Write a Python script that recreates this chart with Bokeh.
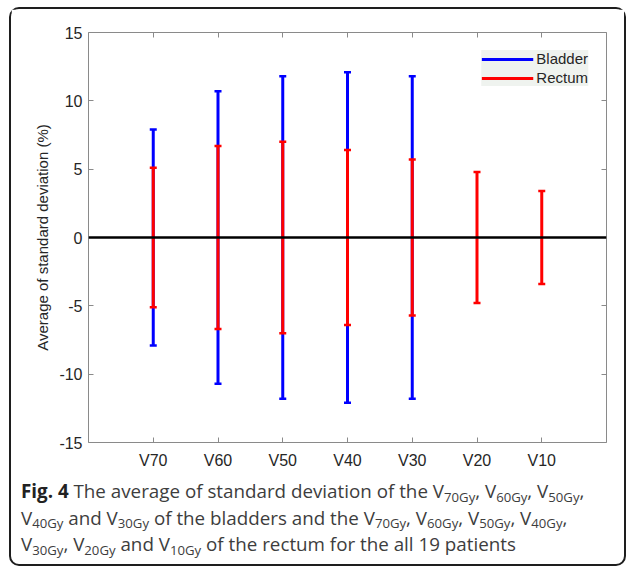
from bokeh.plotting import figure
from bokeh.models import (Range1d, FixedTicker, LinearAxis, Span, Legend, LegendItem,
                          Div, ColumnDataSource)
from bokeh.layouts import column
from bokeh.embed import file_html
from bokeh.resources import INLINE

# ---- data ----
categories = ["V70", "V60", "V50", "V40", "V30", "V20", "V10"]
bladder_cats = ["V70", "V60", "V50", "V40", "V30"]
bladder_sd = [7.9, 10.7, 11.8, 12.1, 11.8]
rectum_cats = ["V70", "V60", "V50", "V40", "V30", "V20", "V10"]
rectum_sd = [5.1, 6.7, 7.0, 6.4, 5.7, 4.8, 3.4]
y_ticks = [-15, -10, -5, 0, 5, 10, 15]
y_tick_labels = ["-15", "-10", "-5", "0", "5", "10", "15"]
y_label = "Average of standard deviation (%)"

pos = {c: i + 1 for i, c in enumerate(categories)}

BLUE = "#0000ff"
RED = "#ff0000"
AX = "#8a8a8a"
TXT = "#262626"
FONT = "Liberation Sans"

p = figure(width=613, height=469, output_backend="svg", toolbar_location=None,
           x_range=Range1d(0, len(categories) + 1), y_range=Range1d(-15, 15),
           min_border_left=77, min_border_right=18, min_border_top=23, min_border_bottom=36)
p.grid.visible = False
p.outline_line_color = None

x_ticker = FixedTicker(ticks=[pos[c] for c in categories])
y_ticker = FixedTicker(ticks=y_ticks)

p.xaxis.ticker = x_ticker
p.xaxis.major_label_overrides = {pos[c]: c for c in categories}
p.yaxis.ticker = y_ticker
p.yaxis.major_label_overrides = dict(zip(y_ticks, y_tick_labels))
p.yaxis.axis_label = y_label

for ax in [p.xaxis[0], p.yaxis[0]]:
    ax.axis_line_color = AX
    ax.major_tick_line_color = AX
    ax.major_tick_in = 5
    ax.major_tick_out = 0
    ax.minor_tick_line_color = None
    ax.major_label_text_font = FONT
    ax.major_label_text_font_size = "16px"
    ax.major_label_text_color = TXT
p.xaxis.major_label_standoff = 9
p.yaxis.major_label_standoff = 6
p.yaxis.axis_label_text_font = FONT
p.yaxis.axis_label_text_font_size = "15px"
p.yaxis.axis_label_text_font_style = "normal"
p.yaxis.axis_label_text_color = TXT
p.yaxis.axis_label_standoff = 5

for side, tk in [("above", x_ticker), ("right", y_ticker)]:
    ax = LinearAxis(ticker=tk)
    ax.axis_line_color = AX
    ax.major_tick_line_color = AX
    ax.major_tick_in = 5
    ax.major_tick_out = 0
    ax.minor_tick_line_color = None
    ax.major_label_text_font_size = "0px"
    ax.major_label_standoff = 0
    ax.major_label_overrides = {t: "" for t in tk.ticks}
    p.add_layout(ax, side)

bsrc = ColumnDataSource(dict(x=[pos[c] for c in bladder_cats],
                             lo=[-v for v in bladder_sd], hi=bladder_sd))
rsrc = ColumnDataSource(dict(x=[pos[c] for c in rectum_cats],
                             lo=[-v for v in rectum_sd], hi=rectum_sd))

rb = p.segment(x0="x", y0="lo", x1="x", y1="hi", source=bsrc, line_color=BLUE, line_width=3)
p.scatter(x="x", y="hi", source=bsrc, marker="dash", size=7, line_color=BLUE, line_width=2.5)
p.scatter(x="x", y="lo", source=bsrc, marker="dash", size=7, line_color=BLUE, line_width=2.5)
rr = p.segment(x0="x", y0="lo", x1="x", y1="hi", source=rsrc, line_color=RED, line_width=3)
p.scatter(x="x", y="hi", source=rsrc, marker="dash", size=7, line_color=RED, line_width=2.5)
p.scatter(x="x", y="lo", source=rsrc, marker="dash", size=7, line_color=RED, line_width=2.5)

p.add_layout(Span(location=0, dimension="width", line_color="black", line_width=2.5))

legend = Legend(items=[LegendItem(label="Bladder", renderers=[rb]),
                       LegendItem(label="Rectum", renderers=[rr])],
                location="top_right", margin=18, padding=4, spacing=2,
                glyph_width=52, glyph_height=16, label_height=16, label_standoff=3,
                background_fill_color="#eff3ef", background_fill_alpha=1,
                border_line_color=None, label_text_font=FONT,
                label_text_font_size="15px", label_text_color=TXT)
p.add_layout(legend)


def sub(s):
    return ('<span style="font-size:70%;position:relative;top:0.28em;line-height:0">'
            + s + '</span>')


def V(n):
    return "V" + sub(n + "Gy")


caption_lines = [
    '<b style="color:#222">Fig. 4</b> The average of standard deviation of the '
    + V("70") + ", " + V("60") + ", " + V("50") + ",",
    V("40") + " and " + V("30") + " of the bladders and the "
    + V("70") + ", " + V("60") + ", " + V("50") + ", " + V("40") + ",",
    V("30") + ", " + V("20") + " and " + V("10") + " of the rectum for the all 19 patients",
]

cap_html = ('<div style="padding-left:10px;white-space:nowrap;font-family:\'Open Sans\';'
            'font-size:18.8px;line-height:26.5px;color:#3d3d3d">'
            + "<br>".join(caption_lines) + "</div>")
cap = Div(text=cap_html, width=613, height=86, margin=0)

lay = column(p, cap, margin=(7, 0, 0, 9),
             styles={"border": "2px solid #1e1e1e", "border-radius": "10px"})

open("out.html", "w").write(file_html(lay, INLINE))
